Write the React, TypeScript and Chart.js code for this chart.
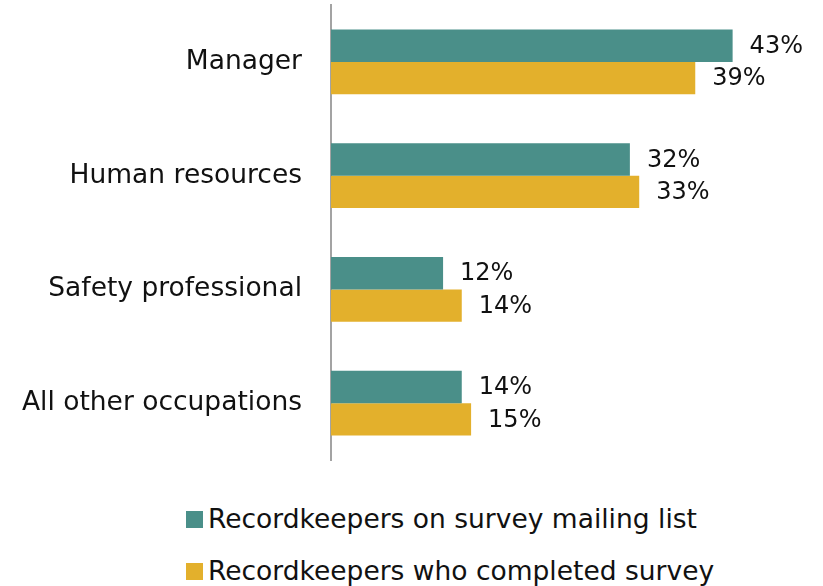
import React, { useEffect, useRef } from "react";
import { Chart, registerables } from "chart.js";

Chart.register(...registerables);

const categories = ["Manager", "Human resources", "Safety professional", "All other occupations"];
const mailingList = [43, 32, 12, 14];
const completed = [39, 33, 14, 15];
const seriesNames = ["Recordkeepers on survey mailing list", "Recordkeepers who completed survey"];
const seriesColors = ["#4a8f89", "#e3b02c"];

const FONT = "'DejaVu Sans', sans-serif";

const valueLabels = {
  id: "valueLabels",
  afterDatasetsDraw(chart: any) {
    const ctx = chart.ctx;
    ctx.save();
    ctx.font = `24px ${FONT}`;
    ctx.fillStyle = "#111111";
    ctx.textAlign = "left";
    ctx.textBaseline = "middle";
    chart.data.datasets.forEach((ds: any, i: number) => {
      const meta = chart.getDatasetMeta(i);
      meta.data.forEach((bar: any, j: number) => {
        ctx.fillText(`${ds.data[j]}%`, bar.x + 17, bar.y + 1);
      });
    });
    ctx.restore();
  },
};

export default function App() {
  const canvasRef = useRef<HTMLCanvasElement | null>(null);

  useEffect(() => {
    if (!canvasRef.current) return;
    const chart = new Chart(canvasRef.current, {
      type: "bar",
      data: {
        labels: categories,
        datasets: [
          {
            label: seriesNames[0],
            data: mailingList,
            backgroundColor: seriesColors[0],
            categoryPercentage: 0.57,
            barPercentage: 1,
          },
          {
            label: seriesNames[1],
            data: completed,
            backgroundColor: seriesColors[1],
            categoryPercentage: 0.57,
            barPercentage: 1,
          },
        ],
      },
      options: {
        indexAxis: "y",
        animation: false,
        responsive: true,
        maintainAspectRatio: false,
        layout: { padding: { top: 5, bottom: 2, right: 25, left: 0 } },
        plugins: {
          legend: { display: false },
          tooltip: { enabled: false },
        },
        scales: {
          x: {
            display: false,
            min: 0,
            max: 50,
          },
          y: {
            grid: { display: false },
            border: { display: true, color: "#a3a3a3", width: 2 },
            ticks: {
              padding: 21,
              color: "#111111",
              font: { family: FONT, size: 26.5 },
            },
            afterFit(scale: any) {
              scale.width = 331;
              scale.paddingTop = 0;
              scale.paddingBottom = 0;
            },
          },
        },
      },
      plugins: [valueLabels],
    });
    return () => chart.destroy();
  }, []);

  const legendRow = (i: number, top: number) => (
    <div
      key={i}
      style={{
        position: "absolute",
        left: 186,
        top,
        height: 52,
        display: "flex",
        alignItems: "center",
        whiteSpace: "nowrap",
      }}
    >
      <span
        style={{
          display: "inline-block",
          width: 17,
          height: 17,
          background: seriesColors[i],
          marginRight: 5,
        }}
      />
      <span style={{ fontFamily: FONT, fontSize: 26.5, color: "#111111", lineHeight: "52px" }}>
        {seriesNames[i]}
      </span>
    </div>
  );

  return (
    <div
      style={{
        position: "absolute",
        left: 0,
        top: 0,
        width: 823,
        height: 586,
        background: "#ffffff",
        overflow: "hidden",
      }}
    >
      <div style={{ position: "absolute", left: 0, top: 0, width: 823, height: 462 }}>
        <canvas ref={canvasRef} />
      </div>
      {legendRow(0, 493)}
      {legendRow(1, 545)}
    </div>
  );
}
